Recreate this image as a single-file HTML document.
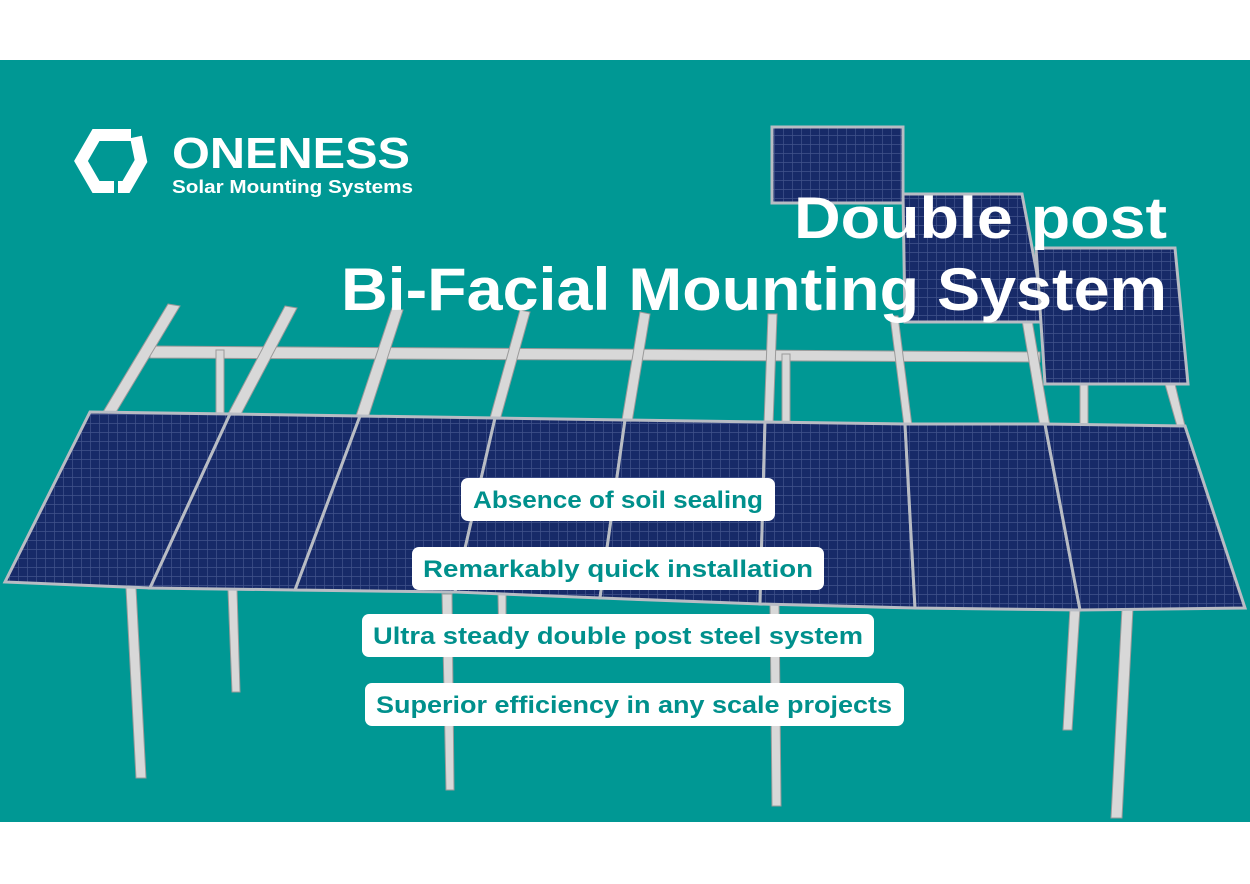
<!DOCTYPE html>
<html><head><meta charset="utf-8"><style>
html,body{margin:0;padding:0;background:#fff;width:1250px;height:884px;overflow:hidden}
svg{display:block}
.t{font-family:"Liberation Sans",sans-serif;font-weight:bold}
</style></head><body>
<svg width="1250" height="884" viewBox="0 0 1250 884" xmlns="http://www.w3.org/2000/svg">
<defs>
<pattern id="cells" width="9" height="9" patternUnits="userSpaceOnUse">
<rect width="9" height="9" fill="#172a68"/>
<path d="M0 0.5H9M0.5 0V9" stroke="#7f90c0" stroke-width="0.7" opacity="0.4"/>
</pattern>
</defs>
<rect x="0" y="60" width="1250" height="762" fill="#009894"/>
<g fill="#d8d8d8" stroke="#9a9a9a" stroke-width="1">
<polygon points="150,346 1040,352 1040,362 150,358"/>
<polygon points="168,304 180,306 115,414 103,412"/>
<polygon points="285,306 297,308 240,416 228,414"/>
<polygon points="392,308 403,310 368,418 356,416"/>
<polygon points="520,310 530,312 500,420 490,418"/>
<polygon points="640,312 650,314 632,422 622,420"/>
<polygon points="768,314 777,314 773,424 764,424"/>
<polygon points="890,316 898,316 912,426 904,426"/>
<polygon points="1022,320 1032,320 1050,426 1040,426"/>
<rect x="216" y="350" width="8" height="64"/>
<rect x="782" y="354" width="8" height="70"/>
<rect x="1080" y="384" width="8" height="40"/>
<polygon points="1165,384 1175,384 1185,426 1177,426"/>
<polygon points="126,588 136,588 146,778 136,778"/>
<polygon points="228,590 237,590 240,692 232,692"/>
<polygon points="442,594 452,594 454,790 446,790"/>
<polygon points="498,594 506,594 506,650 499,650"/>
<polygon points="770,604 779,604 781,806 772,806"/>
<polygon points="1070,608 1080,608 1072,730 1063,730"/>
<polygon points="1122,608 1133,608 1122,818 1111,818"/>
</g>
<g fill="url(#cells)" stroke="#b8bcc4" stroke-width="3">
<polygon points="772,127 903,127 903,203 772,203"/>
<polygon points="903,194 1022,194 1046,322 905,322"/>
<polygon points="1036,248 1175,248 1188,384 1045,384"/>
<polygon points="90,412 230,414 150,588 5,582"/>
<polygon points="230,414 360,416 295,590 150,588"/>
<polygon points="360,416 495,418 455,592 295,590"/>
<polygon points="495,418 625,420 600,598 455,592"/>
<polygon points="625,420 765,422 760,604 600,598"/>
<polygon points="765,422 905,424 915,608 760,604"/>
<polygon points="905,424 1045,424 1080,610 915,608"/>
<polygon points="1045,424 1185,426 1245,608 1080,610"/>
</g>
<g fill="none" stroke="#fff" stroke-width="12" stroke-linejoin="miter">
<path d="M114,187 L96,187 L81,161 L96,135 L131,135"/>
<path d="M136,137 L141,161 L126,187 L118,187"/>
</g>
<text class="t" x="172" y="168" font-size="44" fill="#fff" textLength="238" lengthAdjust="spacingAndGlyphs">ONENESS</text>
<text x="172" y="193" font-family="Liberation Sans,sans-serif" font-size="18" font-weight="bold" fill="#fff" textLength="241" lengthAdjust="spacingAndGlyphs">Solar Mounting Systems</text>
<text class="t" x="1167" y="238" font-size="58" fill="#fff" text-anchor="end" textLength="373" lengthAdjust="spacingAndGlyphs">Double post</text>
<text class="t" x="341" y="310" font-size="60" fill="#fff" textLength="826" lengthAdjust="spacingAndGlyphs">Bi-Facial Mounting System</text>
<g fill="#fff">
<rect x="461" y="478" width="314" height="43" rx="7"/>
<rect x="412" y="547" width="412" height="43" rx="7"/>
<rect x="362" y="614" width="512" height="43" rx="7"/>
<rect x="365" y="683" width="539" height="43" rx="7"/>
</g>
<g class="t" font-size="24" fill="#00908c">
<text x="473" y="508" textLength="290" lengthAdjust="spacingAndGlyphs">Absence of soil sealing</text>
<text x="423" y="577" textLength="390" lengthAdjust="spacingAndGlyphs">Remarkably quick installation</text>
<text x="373" y="644" textLength="490" lengthAdjust="spacingAndGlyphs">Ultra steady double post steel system</text>
<text x="376" y="713" textLength="516" lengthAdjust="spacingAndGlyphs">Superior efficiency in any scale projects</text>
</g>
</svg>
</body></html>
